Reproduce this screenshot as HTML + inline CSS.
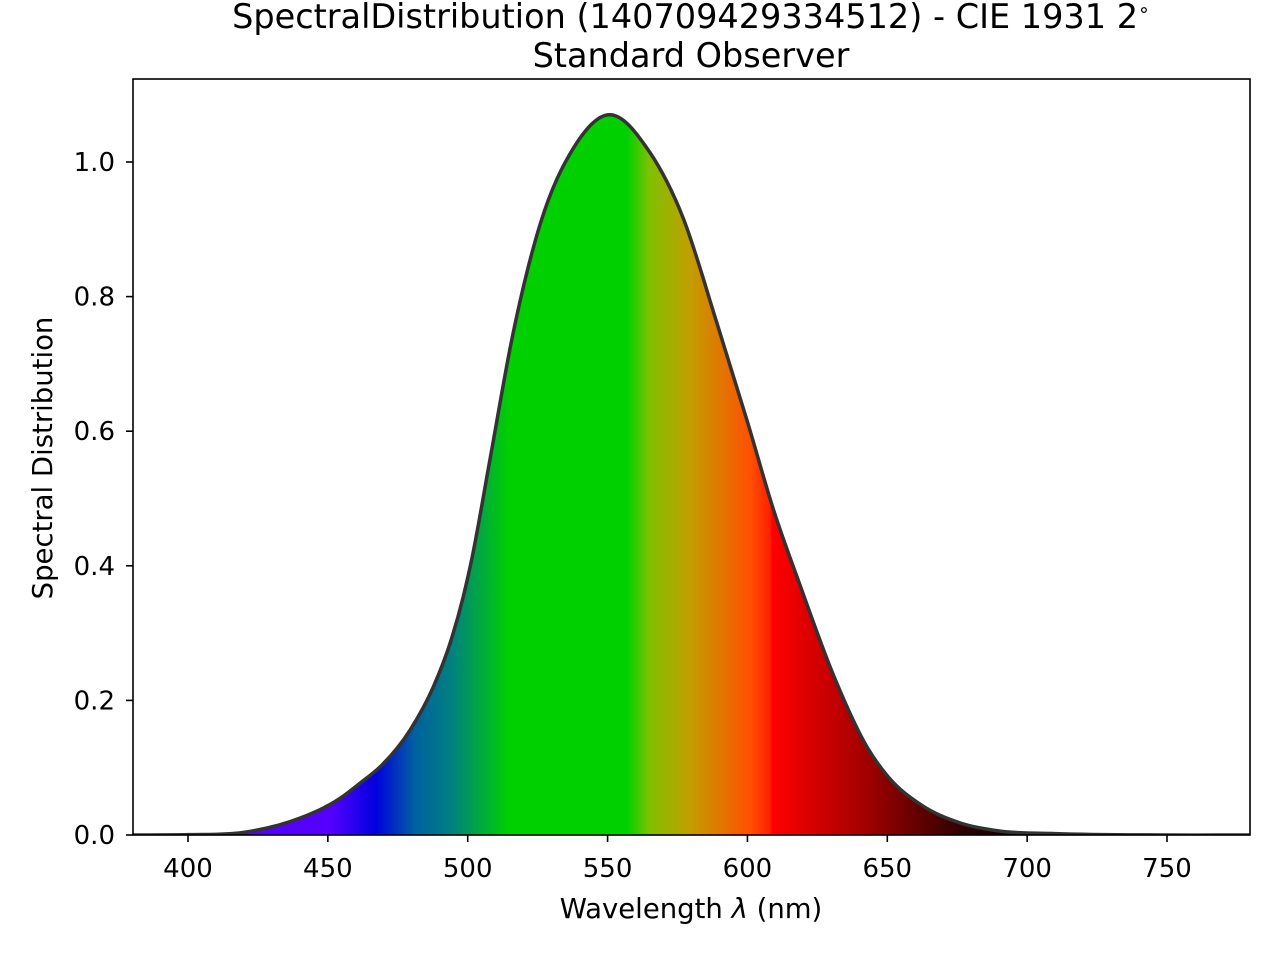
<!DOCTYPE html>
<html><head><meta charset="utf-8"><style>
body{margin:0;background:#fff}
svg{font-family:"DejaVu Sans","Liberation Sans",sans-serif}
</style></head><body>
<svg id="chart" width="1280" height="960" viewBox="0 0 1280 960" xmlns="http://www.w3.org/2000/svg">
<defs>
<linearGradient id="spec" gradientUnits="userSpaceOnUse" x1="133" y1="0" x2="1250" y2="0"></linearGradient>
<clipPath id="plotclip"><rect x="133" y="79" width="1117" height="756"/></clipPath>
</defs>
<g id="plot" clip-path="url(#plotclip)"></g>
<rect x="133" y="79" width="1117" height="756" fill="none" stroke="#000" stroke-width="1.6"/>
<g id="axes"></g>
<text x="691" y="28" text-anchor="middle" font-size="33.5">SpectralDistribution (140709429334512) - CIE 1931 2<tspan font-size="19" dy="-12">∘</tspan></text>
<text x="691" y="67" text-anchor="middle" font-size="33.5">Standard Observer</text>
<text x="691" y="918" text-anchor="middle" font-size="27.5">Wavelength <tspan font-style="italic">λ</tspan> (nm)</text>
<text transform="translate(52,458) rotate(-90)" text-anchor="middle" font-size="27.5">Spectral Distribution</text>
</svg>
<script>
const wavelengths=[380,400,420,440,454,461.5,468.6,479.4,487.7,493.7,498.4,501.4,508,516,526,538,550,565,577,589,600,609.5,619,631,643,650,662,676,690,710,750,780];
const values=[0,0.0005,0.004,0.025,0.0535,0.077,0.101,0.156,0.22,0.285,0.354,0.409,0.559,0.741,0.909,1.022,1.07,1.015,0.917,0.762,0.614,0.481,0.369,0.235,0.129,0.088,0.045,0.018,0.006,0.002,0,0];
const xTicks=[400,450,500,550,600,650,700,750];
const yTicks=[0,0.2,0.4,0.6,0.8,1.0];
const colorStops=[[380,'#5000ff'],[451,'#5500ff'],[467,'#0000e0'],[481,'#0060a0'],[494,'#008080'],[515,'#00d000'],[557,'#00d000'],[565,'#80c000'],[579,'#c0a000'],[601,'#ff5000'],[608,'#ff2000'],[609,'#ff0000'],[643,'#a00000'],[676,'#300000'],[700,'#000000'],[780,'#000000']];
const X=l=>188+(l-400)*(1167-188)/350;
const Y=v=>835-v*673;
const NS='http://www.w3.org/2000/svg';
const mk=(t,a,p)=>{const e=document.createElementNS(NS,t);for(const k in a)e.setAttribute(k,a[k]);p.appendChild(e);return e;};
const g=document.getElementById('spec');
colorStops.forEach(s=>{mk('stop',{offset:((X(s[0])-133)/1117).toFixed(4),'stop-color':s[1]},g);});
const plot=document.getElementById('plot');
const pts=wavelengths.map((w,i)=>[X(w),Y(values[i])]);
const n=pts.length;
const m=pts.map((p,i)=>{
  if(i===0) return (pts[1][1]-p[1])/(pts[1][0]-p[0]);
  if(i===n-1) return (p[1]-pts[i-1][1])/(p[0]-pts[i-1][0]);
  const h0=p[0]-pts[i-1][0], h1=pts[i+1][0]-p[0];
  const s0=(p[1]-pts[i-1][1])/h0, s1=(pts[i+1][1]-p[1])/h1;
  return (s0*h1+s1*h0)/(h0+h1);
});
let d='M'+pts[0][0]+','+pts[0][1];
for(let i=0;i<n-1;i++){const h=pts[i+1][0]-pts[i][0];
d+=` C${pts[i][0]+h/3},${pts[i][1]+m[i]*h/3} ${pts[i+1][0]-h/3},${pts[i+1][1]-m[i+1]*h/3} ${pts[i+1][0]},${pts[i+1][1]}`;}
const area=mk('path',{d:d+` L${pts[n-1][0]},835 L${pts[0][0]},835 Z`,fill:'url(#spec)'},plot);


const line=mk('path',{d:d,fill:'none',stroke:'#333','stroke-width':3.5},plot);


const ax=document.getElementById('axes');
xTicks.forEach(t=>{const x=X(t);
const tk=mk('line',{x1:x,x2:x,y1:835,y2:842,stroke:'#000','stroke-width':1.6},ax);


const tx=mk('text',{x:x,y:877,'text-anchor':'middle','font-size':26},ax);tx.textContent=t;

});
yTicks.forEach(t=>{const y=Y(t);
const tk=mk('line',{x1:126,x2:133,y1:y,y2:y,stroke:'#000','stroke-width':1.6},ax);


const tx=mk('text',{x:115,y:y+9,'text-anchor':'end','font-size':26},ax);tx.textContent=t.toFixed(1);

});
</script>
</body></html>
